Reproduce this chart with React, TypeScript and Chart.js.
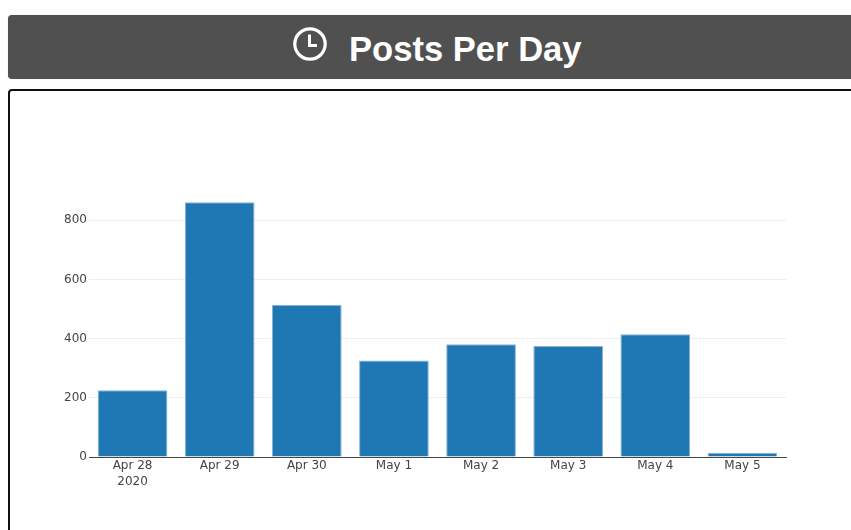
import React, { useEffect, useRef } from "react";
import { Chart, registerables } from "chart.js";

Chart.register(...registerables);

const categories: (string | string[])[] = [
  ["Apr 28", "2020"],
  "Apr 29",
  "Apr 30",
  "May 1",
  "May 2",
  "May 3",
  "May 4",
  "May 5",
];
const posts = [226, 861, 514, 326, 381, 375, 415, 14];
const yTickValues = [0, 200, 400, 600, 800];
const titleText = "Posts Per Day";

export default function App() {
  const ref = useRef<HTMLCanvasElement>(null);
  useEffect(() => {
    const chart = new Chart(ref.current!, {
      type: "bar",
      data: {
        labels: categories as any,
        datasets: [
          {
            data: posts,
            backgroundColor: "#1f77b4",
            borderColor: "#85b4d6",
            borderWidth: 1,
            borderSkipped: "bottom",
            categoryPercentage: 1,
            barPercentage: 0.8,
          },
        ],
      },
      options: {
        responsive: false,
        animation: false,
        layout: { padding: { left: 0, right: 65, top: 189, bottom: 0 } },
        plugins: { legend: { display: false }, tooltip: { enabled: false } },
        scales: {
          x: {
            grid: { display: false, drawTicks: false },
            border: { display: true, color: "#444444", width: 1 },
            ticks: {
              color: "#444444",
              font: { family: "DejaVu Sans", size: 12, lineHeight: 1.33 },
              padding: 1,
              maxRotation: 0,
              autoSkip: false,
            },
            afterFit: (s: any) => {
              s.height = 73;
            },
          },
          y: {
            min: 0,
            max: 906,
            afterBuildTicks: (s: any) => {
              s.ticks = yTickValues.map((value) => ({ value }));
            },
            grid: { color: "#eeeeee", lineWidth: 1, drawTicks: false },
            border: { display: false },
            ticks: {
              color: "#444444",
              font: { family: "DejaVu Sans", size: 12 },
              padding: 2,
            },
            afterFit: (s: any) => {
              s.width = 89;
            },
          },
        },
      },
    });
    return () => chart.destroy();
  }, []);

  return (
    <div style={{ position: "fixed", inset: 0, overflow: "hidden", background: "#fff" }}>
      <div
        style={{
          position: "absolute",
          left: 8,
          top: 15,
          width: 900,
          height: 64,
          background: "#505050",
          borderRadius: 4,
          boxShadow: "0 0 1px #bbb",
        }}
      />
      <svg
        style={{ position: "absolute", left: 292, top: 26 }}
        width={36}
        height={36}
        viewBox="0 0 36 36"
      >
        <circle cx={18} cy={18} r={15.2} fill="none" stroke="#fff" strokeWidth={3.2} />
        <path d="M17.5 8.5 V19.5 H25" fill="none" stroke="#fff" strokeWidth={3} />
      </svg>
      <div
        style={{
          position: "absolute",
          left: 349,
          top: 28,
          color: "#fff",
          font: "bold 34.6px 'Liberation Sans', sans-serif",
          lineHeight: "42px",
          whiteSpace: "nowrap",
        }}
      >
        {titleText}
      </div>
      <div
        style={{
          position: "absolute",
          left: 8,
          top: 89,
          width: 900,
          height: 500,
          border: "2px solid #111",
          borderRadius: 4,
          boxSizing: "border-box",
        }}
      />
      <canvas
        ref={ref}
        width={851}
        height={530}
        style={{ position: "absolute", left: 0, top: 0, display: "block" }}
      />
    </div>
  );
}
